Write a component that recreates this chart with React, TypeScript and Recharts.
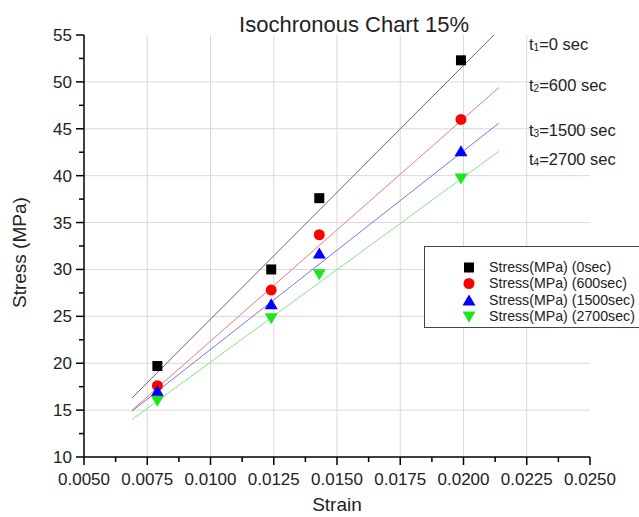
import React from 'react';
import { ScatterChart, Scatter, XAxis, YAxis, CartesianGrid, Legend } from 'recharts';

// measured points
const strain = [0.0079, 0.0124, 0.0143, 0.0199];
const stress0 = [19.7, 30.0, 37.6, 52.3];
const stress600 = [17.6, 27.8, 33.7, 46.0];
const stress1500 = [17.0, 26.3, 31.7, 42.6];
const stress2700 = [16.0, 24.8, 29.5, 39.7];

// fitted lines, end points
const fitStrain0 = [0.0069, 0.0212];
const fit0 = [16.3, 55.0];
const fitStrain = [0.0069, 0.0214];
const fit600 = [15.0, 49.4];
const fit1500 = [14.9, 45.6];
const fit2700 = [14.0, 42.6];

const xMajor = [0.005, 0.0075, 0.01, 0.0125, 0.015, 0.0175, 0.02, 0.0225, 0.025];
const xMinor = [0.00625, 0.00875, 0.01125, 0.01375, 0.01625, 0.01875, 0.02125, 0.02375];
const yMajor = [10, 15, 20, 25, 30, 35, 40, 45, 50, 55];
const yMinor = [12.5, 17.5, 22.5, 27.5, 32.5, 37.5, 42.5, 47.5, 52.5];
const gridX = [0.0075, 0.01, 0.0125, 0.015, 0.0175, 0.02, 0.0225];
const gridY = [15, 20, 25, 30, 35, 40, 45, 50];

const timeIndex = ['1', '2', '3', '4'];
const timeSec = ['0', '600', '1500', '2700'];

const FONT = '"Liberation Sans", Arial, Helvetica, sans-serif';

const toPoints = (xs: number[], ys: number[]) => xs.map((x, i) => ({ x, y: ys[i] }));

type Kind = 'square' | 'circle' | 'up' | 'down';

const series: { name: string; kind: Kind; fill: string; line: string; data: any[]; fit: any[] }[] = [
  { name: 'Stress(MPa) (0sec)', kind: 'square', fill: '#000000', line: '#6a6a6a', data: toPoints(strain, stress0), fit: toPoints(fitStrain0, fit0) },
  { name: 'Stress(MPa) (600sec)', kind: 'circle', fill: '#ff0000', line: '#f07a7a', data: toPoints(strain, stress600), fit: toPoints(fitStrain, fit600) },
  { name: 'Stress(MPa) (1500sec)', kind: 'up', fill: '#0000ff', line: '#7676e6', data: toPoints(strain, stress1500), fit: toPoints(fitStrain, fit1500) },
  { name: 'Stress(MPa) (2700sec)', kind: 'down', fill: '#1ee61e', line: '#7ee87e', data: toPoints(strain, stress2700), fit: toPoints(fitStrain, fit2700) },
];

const Marker = ({ kind, cx, cy, fill }: { kind: Kind; cx: number; cy: number; fill: string }) => {
  if (kind === 'square') return <rect x={cx - 5} y={cy - 5} width={10} height={10} fill={fill} />;
  if (kind === 'circle') return <circle cx={cx} cy={cy} r={5.5} fill={fill} />;
  if (kind === 'up')
    return <polygon points={`${cx},${cy - 6} ${cx + 6.5},${cy + 5} ${cx - 6.5},${cy + 5}`} fill={fill} />;
  return <polygon points={`${cx},${cy + 6} ${cx + 6.5},${cy - 5} ${cx - 6.5},${cy - 5}`} fill={fill} />;
};

const isIn = (list: number[], v: number) => list.some((t) => Math.abs(t - v) < 1e-9);

const XTick = (props: any) => {
  const { x, y, payload } = props;
  const major = isIn(xMajor, payload.value);
  return (
    <g>
      <line x1={x} y1={y} x2={x} y2={y + (major ? 8 : 5)} stroke="#000" strokeWidth={1.5} />
      {major && (
        <text x={x} y={y + 28} textAnchor="middle" fontSize={17} fill="#222" style={{ fontFamily: FONT }}>
          {payload.value.toFixed(4)}
        </text>
      )}
    </g>
  );
};

const YTick = (props: any) => {
  const { x, y, payload } = props;
  const major = isIn(yMajor, payload.value);
  return (
    <g>
      <line x1={x} y1={y} x2={x - (major ? 8 : 5)} y2={y} stroke="#000" strokeWidth={1.5} />
      {major && (
        <text x={x - 12} y={y + 6} textAnchor="end" fontSize={17} fill="#222" style={{ fontFamily: FONT }}>
          {payload.value}
        </text>
      )}
    </g>
  );
};

const LegendBox = () => (
  <div
    style={{
      width: 230,
      height: 82,
      border: '1px solid #444',
      background: '#fff',
      boxSizing: 'border-box',
      position: 'relative',
      fontFamily: FONT,
    }}
  >
    {series.map((s, i) => (
      <div
        key={s.name}
        style={{ position: 'absolute', left: 0, top: 12 + i * 16.3, height: 17, width: 230, display: 'flex', alignItems: 'center' }}
      >
        <svg width={60} height={17} style={{ display: 'block', flex: 'none' }}>
          <Marker kind={s.kind} cx={44} cy={8.5} fill={s.fill} />
        </svg>
        <span style={{ fontSize: 14.2, lineHeight: '17px', color: '#222', marginLeft: 4, whiteSpace: 'nowrap' }}>{s.name}</span>
      </div>
    ))}
  </div>
);

export default function App() {
  return (
    <div style={{ position: 'absolute', left: 0, top: 0, width: 639, height: 517, overflow: 'hidden', background: '#fff' }}>
      <ScatterChart width={639} height={517} margin={{ top: 35, right: 49, bottom: 0, left: 0 }}>
        <CartesianGrid stroke="#d9d9d9" strokeWidth={1} verticalValues={gridX} horizontalValues={gridY} />
        <XAxis
          type="number"
          dataKey="x"
          domain={[0.005, 0.025]}
          ticks={[...xMajor, ...xMinor].sort((a, b) => a - b)}
          interval={0}
          tickSize={0}
          tickMargin={0}
          tick={<XTick />}
          height={60}
          stroke="#000"
          strokeWidth={1.5}
          label={{ value: 'Strain', position: 'insideBottom', offset: 6, fontSize: 19, fill: '#222', fontFamily: FONT }}
        />
        <YAxis
          type="number"
          dataKey="y"
          domain={[10, 55]}
          ticks={[...yMajor, ...yMinor].sort((a, b) => a - b)}
          interval={0}
          tickSize={0}
          tickMargin={0}
          tick={<YTick />}
          width={84}
          stroke="#000"
          strokeWidth={1.5}
          label={{
            value: 'Stress (MPa)',
            angle: -90,
            position: 'insideLeft',
            dx: 14,
            dy: 62,
            fontSize: 19,
            fill: '#222',
            fontFamily: FONT,
          }}
        />
        {series.map((s) => (
          <Scatter
            key={s.name + 'fit'}
            data={s.fit}
            line={{ stroke: s.line, strokeWidth: 1 }}
            shape={() => <g />}
            legendType="none"
            isAnimationActive={false}
          />
        ))}
        {series.map((s) => (
          <Scatter
            key={s.name}
            name={s.name}
            data={s.data}
            shape={(p: any) => <Marker kind={s.kind} cx={p.cx} cy={p.cy} fill={s.fill} />}
            isAnimationActive={false}
          />
        ))}
        <Legend
          layout="vertical"
          align="center"
          verticalAlign="middle"
          wrapperStyle={{ left: 424, top: 246, width: 230, height: 82 }}
          content={() => <LegendBox />}
        />
      </ScatterChart>
      <svg width={639} height={517} style={{ position: 'absolute', left: 0, top: 0, pointerEvents: 'none' }}>
        <text x={354} y={32} textAnchor="middle" fontSize={22} fill="#222" style={{ fontFamily: FONT }}>
          Isochronous Chart 15%
        </text>
        {timeIndex.map((t, i) => (
          <text key={t} x={529} y={[50, 91, 136, 165][i]} fontSize={16.5} fill="#222" style={{ fontFamily: FONT }}>
            t
            <tspan fontSize={10} dy={1}>{t}</tspan>
            <tspan dy={-1}>={timeSec[i]} sec</tspan>
          </text>
        ))}
      </svg>
    </div>
  );
}
